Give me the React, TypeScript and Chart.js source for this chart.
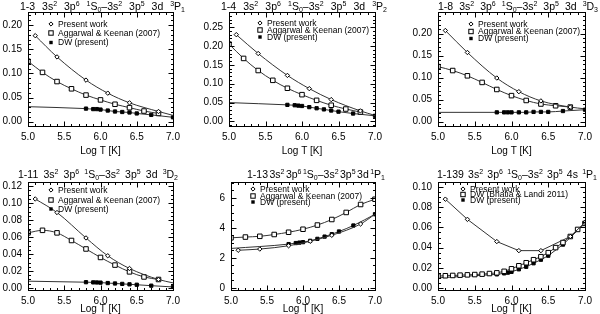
import React, { useEffect, useRef } from "react";
import { Chart, registerables } from "chart.js";
Chart.register(...registerables);

const FONT = '"Liberation Sans", Arial, Helvetica, sans-serif';

// ---------- shared temperature grids (log T) ----------
const presentT = [5.1, 5.4, 5.8, 6.1, 6.4, 6.8, 7.0];
const akT = [5.0, 5.2, 5.4, 5.6, 5.8, 6.0, 6.2, 6.4, 6.6, 6.8];
const akT5 = [5.0, 5.2, 5.4, 5.6, 5.8, 6.0, 6.2, 6.4, 6.6, 6.8, 7.0];
const dwT = [5.0, 5.8, 5.9, 5.95, 6.0, 6.1, 6.2, 6.3, 6.4, 6.5, 6.7, 7.0];
const blT = [5.0, 5.1, 5.2, 5.3, 5.4, 5.5, 5.6, 5.7, 5.8, 5.9, 6.0, 6.1, 6.2, 6.3, 6.4, 6.5, 6.6, 6.7, 6.8, 6.9, 7.0];
const xTicks = [5.0, 5.5, 6.0, 6.5, 7.0];

// ---------- panel 1: 1-3 ----------
const p1Present = [0.178, 0.134, 0.086, 0.059, 0.039, 0.021, 0.013];
const p1AK = [0.125, 0.102, 0.083, 0.068, 0.055, 0.045, 0.036, 0.029, 0.022, 0.017];
const p1DW = [0.031, 0.027, 0.026, 0.026, 0.025, 0.023, 0.021, 0.020, 0.019, 0.017, 0.014, 0.009];
const p1YTicks = [0, 0.05, 0.1, 0.15, 0.2];

// ---------- panel 2: 1-4 ----------
const p2Present = [0.230, 0.180, 0.122, 0.087, 0.058, 0.028, 0.016];
const p2AK = [0.205, 0.167, 0.135, 0.109, 0.088, 0.071, 0.056, 0.043, 0.033, 0.025];
const p2DW = [0.050, 0.044, 0.043, 0.042, 0.041, 0.038, 0.035, 0.032, 0.029, 0.026, 0.021, 0.015];
const p2YTicks = [0, 0.05, 0.1, 0.15, 0.2, 0.25];

// ---------- panel 3: 1-8 ----------
const p3Present = [0.207, 0.157, 0.099, 0.068, 0.047, 0.033, 0.029];
const p3AK = [0.125, 0.116, 0.104, 0.089, 0.073, 0.059, 0.048, 0.040, 0.036, 0.033];
const p3DW = [0.021, 0.021, 0.021, 0.021, 0.021, 0.021, 0.021, 0.022, 0.022, 0.022, 0.024, 0.027];
const p3YTicks = [0, 0.05, 0.1, 0.15, 0.2];

// ---------- panel 4: 1-11 ----------
const p4Present = [0.105, 0.089, 0.059, 0.038, 0.023, 0.010, 0.006];
const p4AK = [0.065, 0.068, 0.065, 0.056, 0.046, 0.036, 0.027, 0.019, 0.013, 0.010];
const p4DW = [0.0080, 0.0068, 0.0066, 0.0065, 0.0063, 0.0058, 0.0053, 0.0048, 0.0043, 0.0038, 0.0027, 0.0012];
const p4YTicks = [0, 0.02, 0.04, 0.06, 0.08, 0.1, 0.12];

// ---------- panel 5: 1-13 ----------
const p5Present = [2.50, 2.58, 2.80, 3.10, 3.50, 4.25, 4.90];
const p5AK = [3.33, 3.38, 3.43, 3.55, 3.70, 3.90, 4.18, 4.55, 5.02, 5.55, 5.90];
const p5DW = [2.62, 2.91, 2.98, 3.01, 3.04, 3.13, 3.26, 3.41, 3.57, 3.75, 4.15, 4.90];
const p5YTicks = [0, 2, 4, 6];

// ---------- panel 6: 1-139 ----------
const p6Present = [0.088, 0.068, 0.046, 0.037, 0.037, 0.051, 0.065];
const p6BL = [0.0118, 0.0121, 0.0124, 0.0127, 0.0130, 0.0133, 0.0137, 0.0143, 0.0150, 0.0165, 0.0190, 0.0220, 0.0250, 0.0280, 0.0310, 0.0350, 0.0400, 0.0450, 0.0510, 0.0580, 0.0640];
const p6DW = [0.0100, 0.0135, 0.0145, 0.0152, 0.0160, 0.0185, 0.0210, 0.0245, 0.0280, 0.0320, 0.0430, 0.0640];
const p6YTicks = [0, 0.02, 0.04, 0.06, 0.08, 0.1];

type Kind = "diamond" | "open" | "filled";
interface SeriesDef { label: string; kind: Kind; x: number[]; y: number[]; bare: number[] }
interface PanelDef {
  title: string; series: SeriesDef[]; yMin: number; yMax: number; yTicks: number[]; yDec: number; yMinor: number; smooth: boolean;
}
interface Layout {
  col: number; row: number; l: number; r: number; t: number; b: number;
  tx0: number; tx1: number; tb: number; lx: number; ly: number[]; xlPad: number;
}

const LP = "Present work";
const LAK = "Aggarwal & Keenan (2007)";
const LDW = "DW (present)";
const LBL = "DW (Bhatia & Landi 2011)";

const panels: PanelDef[] = [
  {
    title: "1-3 3s^2 3p^6 ^1S_0–3s^2 3p^5 3d ^3P_1", yMin: -0.009, yMax: 0.227, yTicks: p1YTicks, yDec: 2, yMinor: 5, smooth: true,
    series: [
      { label: LP, kind: "diamond", x: presentT, y: p1Present, bare: [6] },
      { label: LAK, kind: "open", x: akT, y: p1AK, bare: [] },
      { label: LDW, kind: "filled", x: dwT, y: p1DW, bare: [0] },
    ],
  },
  {
    title: "1-4 3s^2 3p^6 ^1S_0–3s^2 3p^5 3d ^3P_2", yMin: -0.012, yMax: 0.29, yTicks: p2YTicks, yDec: 2, yMinor: 5, smooth: true,
    series: [
      { label: LP, kind: "diamond", x: presentT, y: p2Present, bare: [6] },
      { label: LAK, kind: "open", x: akT, y: p2AK, bare: [] },
      { label: LDW, kind: "filled", x: dwT, y: p2DW, bare: [0] },
    ],
  },
  {
    title: "1-8 3s^2 3p^6 ^1S_0–3s^2 3p^5 3d ^3D_3", yMin: -0.010, yMax: 0.249, yTicks: p3YTicks, yDec: 2, yMinor: 5, smooth: true,
    series: [
      { label: LP, kind: "diamond", x: presentT, y: p3Present, bare: [6] },
      { label: LAK, kind: "open", x: akT, y: p3AK, bare: [] },
      { label: LDW, kind: "filled", x: dwT, y: p3DW, bare: [0] },
    ],
  },
  {
    title: "1-11 3s^2 3p^6 ^1S_0–3s^2 3p^5 3d ^3D_2", yMin: -0.0024, yMax: 0.125, yTicks: p4YTicks, yDec: 2, yMinor: 4, smooth: true,
    series: [
      { label: LP, kind: "diamond", x: presentT, y: p4Present, bare: [6] },
      { label: LAK, kind: "open", x: akT, y: p4AK, bare: [] },
      { label: LDW, kind: "filled", x: dwT, y: p4DW, bare: [0] },
    ],
  },
  {
    title: "1-13 3s^2 3p^6 ^1S_0–3s^2 3p^5 3d ^1P_1", yMin: -0.15, yMax: 7.05, yTicks: p5YTicks, yDec: 0, yMinor: 4, smooth: true,
    series: [
      { label: LP, kind: "diamond", x: presentT, y: p5Present, bare: [6] },
      { label: LAK, kind: "open", x: akT5, y: p5AK, bare: [] },
      { label: LDW, kind: "filled", x: dwT, y: p5DW, bare: [0] },
    ],
  },
  {
    title: "1-139 3s^2 3p^6 ^1S_0–3s^2 3p^5 4s ^1P_1", yMin: -0.002, yMax: 0.105, yTicks: p6YTicks, yDec: 2, yMinor: 4, smooth: false,
    series: [
      { label: LP, kind: "diamond", x: presentT, y: p6Present, bare: [] },
      { label: LBL, kind: "open", x: blT, y: p6BL, bare: [] },
      { label: LDW, kind: "filled", x: dwT, y: p6DW, bare: [0] },
    ],
  },
];

const layouts: Layout[] = [
  { col: 0, row: 0, l: 28, r: 173, t: 11, b: 126, tx0: 20, tx1: 185, tb: 10, lx: 51, ly: [24, 33, 42.5], xlPad: 1 },
  { col: 1, row: 0, l: 29, r: 175, t: 11, b: 126, tx0: 21, tx1: 187, tb: 10, lx: 60, ly: [23, 30, 37], xlPad: 1 },
  { col: 2, row: 0, l: 38, r: 185, t: 11, b: 126, tx0: 38, tx1: 198, tb: 10, lx: 71, ly: [24, 31.5, 38.5], xlPad: 1 },
  { col: 0, row: 1, l: 28, r: 173, t: 25, b: 133, tx0: 18, tx1: 178, tb: 21, lx: 51, ly: [33, 43, 52], xlPad: 0 },
  { col: 1, row: 1, l: 31, r: 175, t: 25, b: 133, tx0: 47, tx1: 185, tb: 21, lx: 53, ly: [32, 39, 45], xlPad: 0 },
  { col: 2, row: 1, l: 38, r: 185, t: 25, b: 133, tx0: 37, tx1: 197, tb: 21, lx: 63, ly: [32, 37.5, 43], xlPad: 0 },
];

const CW = 200;
const CH = 157;
const RAD: Record<Kind, number> = { diamond: 2.2, open: 3.2, filled: 2.3 };

function parseRich(s: string) {
  const out: { t: string; k: string }[] = [];
  let i = 0;
  while (i < s.length) {
    const c = s[i];
    if (c === "^" || c === "_") { out.push({ t: s[i + 1], k: c }); i += 2; }
    else {
      let j = i;
      while (j < s.length && s[j] !== "^" && s[j] !== "_") j++;
      out.push({ t: s.slice(i, j), k: "" });
      i = j;
    }
  }
  return out;
}

function drawMarker(ctx: CanvasRenderingContext2D, kind: Kind, x: number, y: number) {
  ctx.save();
  ctx.lineWidth = 1;
  ctx.strokeStyle = "#000";
  ctx.fillStyle = "#000";
  if (kind === "diamond") {
    const r = 2.1;
    ctx.beginPath();
    ctx.moveTo(x, y - r); ctx.lineTo(x + r, y); ctx.lineTo(x, y + r); ctx.lineTo(x - r, y);
    ctx.closePath(); ctx.stroke();
  } else if (kind === "open") {
    ctx.fillStyle = "#fff";
    ctx.fillRect(x - 2.2, y - 2.2, 4.4, 4.4);
    ctx.strokeRect(x - 2.2, y - 2.2, 4.4, 4.4);
  } else {
    ctx.fillRect(x - 1.7, y - 1.7, 3.4, 3.4);
  }
  ctx.restore();
}

function makeDeco(p: PanelDef, lay: Layout) {
  return {
    id: "deco",
    afterDraw(chart: any) {
      const ctx: CanvasRenderingContext2D = chart.ctx;
      const { left, right, top, bottom } = chart.chartArea;
      const xs = chart.scales.x;
      const ys = chart.scales.y;
      ctx.save();
      ctx.strokeStyle = "#000";
      ctx.lineWidth = 1;
      const L = Math.round(left) + 0.5, R = Math.round(right) + 0.5, T = Math.round(top) + 0.5, B = Math.round(bottom) + 0.5;
      ctx.strokeRect(L, T, R - L, B - T);
      ctx.beginPath();
      // x ticks (major 0.5, minor 0.1)
      for (let k = 0; k <= 20; k++) {
        const v = 5 + k * 0.1;
        const px = Math.round(xs.getPixelForValue(v)) + 0.5;
        const len = k % 5 === 0 ? 5 : 2.5;
        ctx.moveTo(px, B); ctx.lineTo(px, B - len);
        ctx.moveTo(px, T); ctx.lineTo(px, T + len);
      }
      // y ticks
      const step = (p.yTicks[1] - p.yTicks[0]) / p.yMinor;
      const k0 = Math.ceil(p.yMin / step - 1e-9), k1 = Math.floor(p.yMax / step + 1e-9);
      for (let k = k0; k <= k1; k++) {
        const v = k * step;
        const py = Math.round(ys.getPixelForValue(v)) + 0.5;
        const len = k % p.yMinor === 0 ? 5 : 2.5;
        ctx.moveTo(L, py); ctx.lineTo(L + len, py);
        ctx.moveTo(R, py); ctx.lineTo(R - len, py);
      }
      ctx.stroke();

      // title with super/subscripts
      ctx.fillStyle = "#000";
      ctx.textBaseline = "alphabetic";
      const big = `10.5px ${FONT}`, small = `7px ${FONT}`;
      const words = p.title.split(" ").map(parseRich);
      const wWidth = (segs: { t: string; k: string }[]) =>
        segs.reduce((a, s) => { ctx.font = s.k ? small : big; return a + ctx.measureText(s.t).width; }, 0);
      const total = words.map(wWidth).reduce((a, b) => a + b, 0);
      const gap = (lay.tx1 - lay.tx0 - total) / (words.length - 1);
      let cx = lay.tx0;
      words.forEach((segs) => {
        segs.forEach((s) => {
          ctx.font = s.k ? small : big;
          const dy = s.k === "^" ? -4.5 : s.k === "_" ? 2 : 0;
          ctx.fillText(s.t, cx, lay.tb + dy);
          cx += ctx.measureText(s.t).width;
        });
        cx += gap;
      });

      // legend
      ctx.font = `8.5px ${FONT}`;
      ctx.textBaseline = "middle";
      p.series.forEach((s, i) => {
        drawMarker(ctx, s.kind, lay.lx, lay.ly[i]);
        ctx.fillText(s.label, lay.lx + 7, lay.ly[i] + 0.5);
      });
      ctx.restore();
    },
  };
}

function Panel({ p, lay }: { p: PanelDef; lay: Layout }) {
  const ref = useRef<HTMLCanvasElement>(null);
  useEffect(() => {
    if (!ref.current) return;
    const chart = new Chart(ref.current, {
      type: "line",
      data: {
        datasets: p.series.map((s) => ({
          label: s.label,
          data: s.x.map((x, i) => ({ x, y: s.y[i] })),
          borderColor: "#333",
          borderWidth: 1,
          pointStyle: s.kind === "diamond" ? "rectRot" : "rect",
          pointRadius: s.x.map((_, i) => (s.bare.includes(i) ? 0 : RAD[s.kind])),
          pointBorderColor: "#000",
          pointBorderWidth: 1,
          pointBackgroundColor: s.kind === "filled" ? "#000" : "#fff",
          cubicInterpolationMode: p.smooth ? "monotone" : "default",
          tension: 0,
          fill: false,
        })),
      },
      options: {
        animation: false,
        responsive: false,
        devicePixelRatio: 1,
        events: [],
        layout: { padding: { left: 0, top: lay.t, right: CW - lay.r, bottom: 0 } },
        plugins: { legend: { display: false }, tooltip: { enabled: false }, title: { display: false } },
        scales: {
          x: {
            type: "linear", min: 5, max: 7,
            grid: { display: false, drawTicks: false },
            border: { display: false },
            afterBuildTicks: (sc: any) => { sc.ticks = xTicks.map((v) => ({ value: v })); },
            afterFit: (sc: any) => { sc.height = CH - lay.b; },
            ticks: { callback: (v: any) => Number(v).toFixed(1), font: { family: FONT, size: 10 }, color: "#000", padding: 5, maxRotation: 0, autoSkip: false },
            title: { display: true, text: "Log T [K]", color: "#000", font: { family: FONT, size: 10, lineHeight: 1 }, padding: { top: 0, bottom: lay.xlPad } },
          },
          y: {
            type: "linear", min: p.yMin, max: p.yMax,
            grid: { display: false, drawTicks: false },
            border: { display: false },
            afterBuildTicks: (sc: any) => { sc.ticks = p.yTicks.map((v) => ({ value: v })); },
            afterFit: (sc: any) => { sc.width = lay.l; },
            ticks: { callback: (v: any) => Number(v).toFixed(p.yDec), font: { family: FONT, size: 10 }, color: "#000", padding: 6, autoSkip: false },
          },
        },
      } as any,
      plugins: [makeDeco(p, lay)],
    });
    return () => chart.destroy();
  }, [p, lay]);
  return (
    <canvas
      ref={ref}
      width={CW}
      height={CH}
      style={{ position: "absolute", left: lay.col * CW, top: lay.row * CH, width: CW, height: CH }}
    />
  );
}

export default function App() {
  return (
    <div style={{ position: "absolute", left: 0, top: 0, width: 600, height: 314, background: "#fff", overflow: "hidden" }}>
      {panels.map((p, i) => (
        <Panel key={i} p={p} lay={layouts[i]} />
      ))}
    </div>
  );
}
